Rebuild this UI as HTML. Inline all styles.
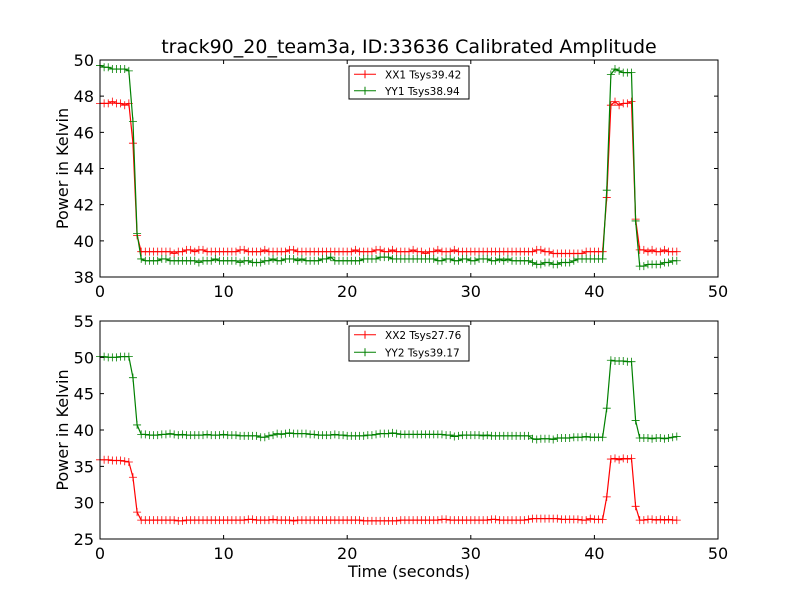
<!DOCTYPE html>
<html><head><meta charset="utf-8"><style>
body{margin:0;background:#fff}svg{display:block;font-family:"DejaVu Sans","Liberation Sans",sans-serif}
</style></head><body>
<svg id="c" width="800" height="600" viewBox="0 0 800 600">
<rect width="800" height="600" fill="#fff"/>
<text x="409" y="53" font-size="19" text-anchor="middle">track90_20_team3a, ID:33636 Calibrated Amplitude</text>
</svg>
<script>
const DT = 1/3;
const xTicks = [0,10,20,30,40,50];
const yTicksTop = [38,40,42,44,46,48,50];
const yTicksBot = [25,30,35,40,45,50,55];
const xx1 = [47.6,47.6,47.6,47.7,47.6,47.6,47.5,47.6,45.4,40.3,
39.4,39.4,39.4,39.4,39.4,39.4,39.4,39.4,39.3,39.4,
39.4,39.5,39.5,39.4,39.5,39.5,39.4,39.4,39.4,39.4,
39.4,39.4,39.4,39.4,39.5,39.5,39.4,39.4,39.4,39.4,
39.5,39.4,39.4,39.4,39.4,39.4,39.5,39.5,39.4,39.4,
39.4,39.4,39.4,39.4,39.4,39.4,39.4,39.4,39.4,39.4,
39.4,39.4,39.5,39.4,39.4,39.4,39.4,39.5,39.5,39.4,
39.4,39.5,39.4,39.4,39.4,39.4,39.5,39.4,39.4,39.3,
39.4,39.4,39.5,39.4,39.4,39.4,39.5,39.4,39.4,39.4,
39.4,39.4,39.4,39.4,39.4,39.4,39.4,39.4,39.4,39.4,
39.4,39.4,39.4,39.4,39.4,39.4,39.5,39.5,39.4,39.4,
39.3,39.3,39.3,39.3,39.3,39.3,39.3,39.3,39.4,39.4,
39.4,39.4,39.4,
42.4,47.5,47.7,47.5,47.6,47.6,47.7,41.2,
39.5,39.5,39.4,39.5,39.4,39.4,39.5,39.4,39.4,39.4];
const yy1 = [49.7,49.6,49.6,49.5,49.5,49.5,49.5,49.4,46.6,40.4,
39.0,38.9,38.9,38.9,38.9,39.0,39.0,38.9,38.9,38.9,
38.9,38.9,38.9,38.9,38.8,38.9,38.9,38.9,39.0,38.9,
38.9,38.9,38.9,38.9,38.8,38.9,38.9,38.8,38.8,38.8,
38.9,38.9,39.0,38.9,38.9,39.0,39.0,39.0,38.9,39.0,
38.9,38.9,38.9,38.9,39.0,39.0,39.1,38.9,38.9,38.9,
38.9,38.9,38.9,38.9,39.0,39.0,39.0,39.0,39.1,39.1,
39.1,39.0,39.0,39.0,39.0,39.0,39.0,39.0,39.0,39.0,
39.0,39.0,38.9,38.9,39.0,39.0,38.9,38.9,39.0,39.0,
38.9,38.9,39.0,39.0,39.0,38.9,38.9,39.0,38.9,39.0,
38.9,38.9,38.9,38.9,38.9,38.8,38.7,38.7,38.8,38.8,
38.7,38.7,38.8,38.8,38.8,38.9,39.0,39.0,39.0,39.0,
39.0,39.0,39.0,
42.8,49.2,49.5,49.4,49.3,49.3,49.3,41.1,
38.6,38.6,38.7,38.7,38.7,38.7,38.8,38.8,38.9,38.9];
const xx2 = [35.9,35.9,35.9,35.8,35.8,35.8,35.7,35.6,33.5,28.7,
27.6,27.6,27.6,27.6,27.6,27.6,27.6,27.6,27.6,27.5,
27.5,27.6,27.6,27.6,27.6,27.6,27.6,27.6,27.6,27.6,
27.6,27.6,27.6,27.6,27.6,27.6,27.7,27.7,27.6,27.6,
27.6,27.6,27.7,27.6,27.6,27.6,27.6,27.5,27.6,27.6,
27.6,27.6,27.6,27.6,27.6,27.6,27.6,27.6,27.6,27.6,
27.6,27.6,27.6,27.6,27.5,27.5,27.5,27.5,27.5,27.5,
27.5,27.5,27.5,27.6,27.6,27.6,27.6,27.6,27.6,27.6,
27.6,27.6,27.6,27.7,27.7,27.6,27.6,27.6,27.6,27.6,
27.6,27.6,27.6,27.6,27.6,27.7,27.7,27.6,27.6,27.6,
27.6,27.6,27.6,27.6,27.7,27.8,27.8,27.8,27.8,27.8,
27.8,27.8,27.7,27.7,27.7,27.7,27.7,27.6,27.6,27.8,
27.7,27.7,27.7,
30.8,36.0,36.1,35.9,36.1,36.0,36.1,29.5,
27.6,27.6,27.7,27.7,27.6,27.7,27.6,27.7,27.6,27.6];
const yy2 = [50.1,50.1,50.0,50.0,50.0,50.1,50.1,50.1,47.2,40.7,
39.4,39.4,39.3,39.3,39.3,39.4,39.4,39.5,39.4,39.3,
39.4,39.3,39.3,39.3,39.3,39.3,39.4,39.3,39.3,39.3,
39.4,39.3,39.3,39.3,39.2,39.2,39.2,39.2,39.2,39.0,
39.0,39.2,39.3,39.5,39.4,39.5,39.6,39.5,39.5,39.5,
39.5,39.4,39.4,39.3,39.3,39.3,39.3,39.4,39.3,39.3,
39.2,39.2,39.2,39.2,39.2,39.3,39.3,39.4,39.5,39.5,
39.5,39.6,39.5,39.4,39.4,39.4,39.4,39.4,39.4,39.4,
39.4,39.4,39.4,39.4,39.3,39.3,39.1,39.2,39.3,39.3,
39.3,39.3,39.3,39.2,39.3,39.2,39.2,39.2,39.2,39.2,
39.2,39.2,39.2,39.2,39.2,38.8,38.7,38.8,38.8,38.8,
38.7,38.9,38.9,38.9,38.9,39.0,39.0,39.0,39.1,39.0,
39.0,39.0,39.0,
43.0,49.6,49.5,49.5,49.5,49.4,49.4,41.3,
38.9,38.9,38.9,38.8,38.9,38.9,38.8,38.9,39.0,39.1];

const NS='http://www.w3.org/2000/svg', svg=document.getElementById('c');
function mk(tag,attrs,parent){const e=document.createElementNS(NS,tag);for(const k in attrs)e.setAttribute(k,attrs[k]);(parent||svg).appendChild(e);return e;}
function panel(top,bot,ymin,ymax,yt,series,legend,xlab,pname){
  const L=100,R=718;
  const g=mk('g',{});
  
  
  const sx=v=>L+(v-0)/(50-0)*(R-L), sy=v=>bot-(v-ymin)/(ymax-ymin)*(bot-top);
  series.forEach(s=>{
    const pts=s.data.map((v,i)=>sx(i*DT).toFixed(2)+','+sy(v).toFixed(2)).join(' ');
    const pl=mk('polyline',{points:pts,fill:'none',stroke:s.color,'stroke-width':1.2},g);
    
    
    let d='';
    s.data.forEach((v,i)=>{const x=sx(i*DT),y=sy(v);d+=`M${x-4},${y}h8M${x},${y-4}v8`;});
    const m=mk('path',{d:d,stroke:s.color,'stroke-width':0.8,fill:'none'},g);
    
    
  });
  const fr=mk('rect',{x:L,y:top,width:R-L,height:bot-top,fill:'none',stroke:'#000','stroke-width':1},g);
  
  
  xTicks.forEach(v=>{const x=sx(v);
    mk('path',{d:`M${x},${bot}v-4M${x},${top}v4`,stroke:'#000'},g);
    const t=mk('text',{x:x,y:bot+20,'font-size':16,'text-anchor':'middle'},g);t.textContent=v;
    
    
  });
  yt.forEach(v=>{const y=sy(v);
    mk('path',{d:`M${L},${y}h4M${R},${y}h-4`,stroke:'#000'},g);
    const t=mk('text',{x:L-6,y:y+6,'font-size':16,'text-anchor':'end'},g);t.textContent=v;
    
    
  });
  const yl=mk('text',{x:0,y:0,'font-size':16,'text-anchor':'middle',transform:`translate(68,${(top+bot)/2}) rotate(-90)`},g);
  yl.textContent='Power in Kelvin';
  
  
  if(xlab){const xl=mk('text',{x:409,y:577,'font-size':16,'text-anchor':'middle'},g);xl.textContent=xlab;
    
    }
  const lg=mk('g',{},g);
  
  
  const ly=legend.y;
  mk('rect',{x:349,y:ly,width:120,height:legend.h,fill:'#fff',stroke:'#000'},lg);
  series.forEach((s,k)=>{const yy=ly+legend.h*(k*2+1)/4;
    mk('path',{d:`M354,${yy}h22M365,${yy-4}v8`,stroke:s.color,'stroke-width':1},lg);
    const t=mk('text',{x:385,y:yy+4,'font-size':10.5},lg);t.textContent=s.label;
    
    
  });
}
panel(60,277,38,50,yTicksTop,[{data:xx1,color:'#ff0000',label:'XX1 Tsys39.42',name:'xx1'},{data:yy1,color:'#008000',label:'YY1 Tsys38.94',name:'yy1'}],{y:66,h:33},null,'top-panel');
panel(321,539,25,55,yTicksBot,[{data:xx2,color:'#ff0000',label:'XX2 Tsys27.76',name:'xx2'},{data:yy2,color:'#008000',label:'YY2 Tsys39.17',name:'yy2'}],{y:326,h:35},'Time (seconds)','bottom-panel');
</script>
</body></html>
